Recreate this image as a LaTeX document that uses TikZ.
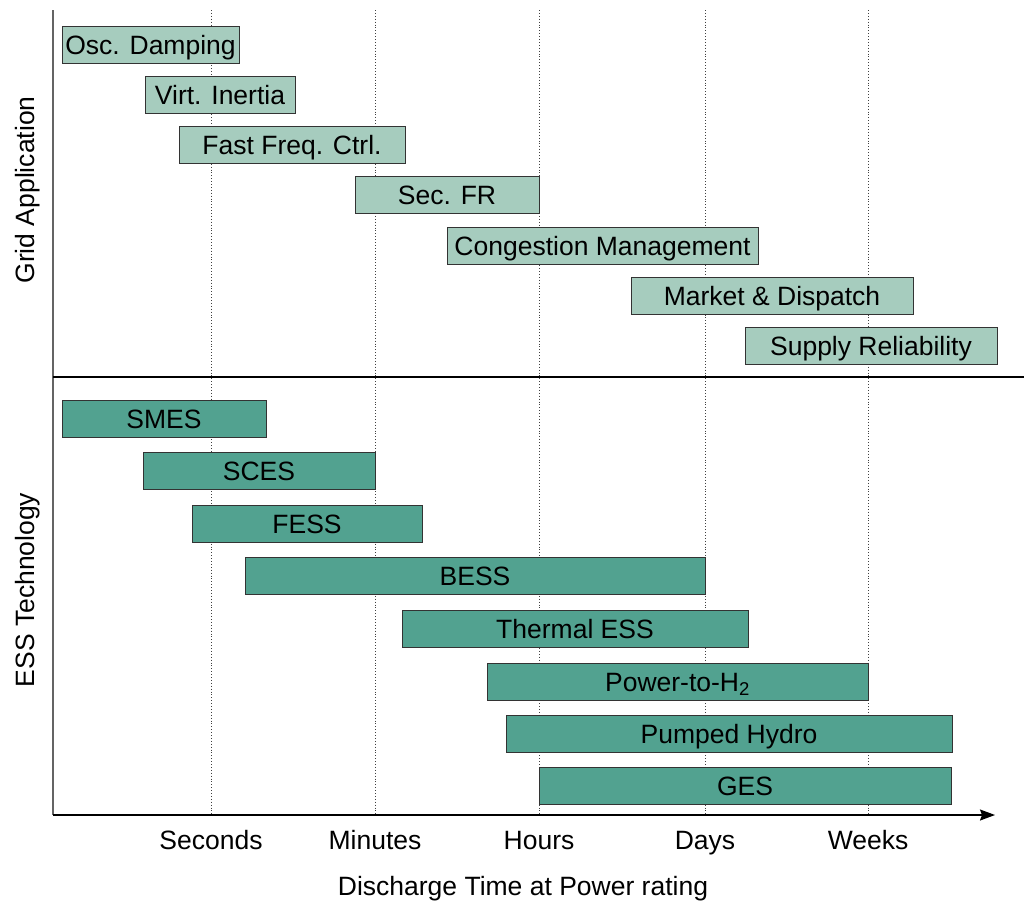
\documentclass[tikz,border=0pt]{standalone}
\usepackage{fontspec}
\setmainfont{Liberation Sans}
\usetikzlibrary{arrows.meta}
\definecolor{Gfill}{RGB}{166,204,190}
\definecolor{Efill}{RGB}{82,162,144}
\definecolor{Axgray}{RGB}{100,100,100}

\begin{document}
\begin{tikzpicture}[x=1pt,y=-1pt,line cap=butt,
  bar/.style={draw=black!80,line width=1pt,inner sep=0pt,minimum height=37pt,text height=19pt,text depth=0pt,font=\fontsize{26.5}{30}\selectfont},
  gridbar/.style={bar,fill=Gfill},
  essbar/.style={bar,fill=Efill},
  tick/.style={inner sep=0pt,text height=19pt,text depth=0pt,font=\fontsize{26.5}{30}\selectfont},
  guide/.style={draw=black!75,line width=0.9pt,dotted}]
\path[use as bounding box] (0,0) rectangle (1024,902);
% guide lines
\foreach \gx in {211,375,539,705,868}
  \draw[guide] (\gx,10) -- (\gx,815);
% axes
\coordinate (org) at (53,815);
\coordinate (top) at (53,10);
\coordinate (xend) at (995,815);
\coordinate (sepl) at (53,377);
\coordinate (sepr) at (1024,377);
\draw[Axgray,line width=2pt] (top) -- (org);
\draw[line width=1.6pt,-{Stealth[length=15pt,width=11pt,inset=2pt]}] (org) -- (xend);
\draw[line width=1.4pt] (sepl) -- (sepr);
% grid applications
\node[gridbar,minimum width=177pt] (osc) at (150.5,44.5) {Osc. Damping};
\node[gridbar,minimum width=150pt] (virt) at (220,94.5) {Virt. Inertia};
\node[gridbar,minimum width=226pt] (ffc) at (292,144.5) {Fast Freq. Ctrl.};
\node[gridbar,minimum width=184pt] (sfr) at (447,195) {Sec. FR};
\node[gridbar,minimum width=311pt] (cong) at (602.5,245.5) {Congestion Management};
\node[gridbar,minimum width=282pt] (mkt) at (772,295.5) {Market \& Dispatch};
\node[gridbar,minimum width=252pt] (sup) at (871,345.5) {Supply Reliability};
% ESS technologies
\node[essbar,minimum width=204pt] (smes) at (164,418.5) {SMES};
\node[essbar,minimum width=232pt] (sces) at (259,471) {SCES};
\node[essbar,minimum width=230pt] (fess) at (307,523.5) {FESS};
\node[essbar,minimum width=460pt] (bess) at (475,576) {BESS};
\node[essbar,minimum width=346pt] (tess) at (575,628.5) {Thermal ESS};
\node[essbar,minimum width=381pt] (pth) at (677.5,681.5) {Power-to-H\textsubscript{2}};
\node[essbar,minimum width=446pt] (phs) at (729,733.5) {Pumped Hydro};
\node[essbar,minimum width=412pt] (ges) at (745,786) {GES};
% axis labels
\node[tick] (sec) at (211,840) {Seconds};
\node[tick] (min) at (375,840) {Minutes};
\node[tick] (hrs) at (539,840) {Hours};
\node[tick] (day) at (705,840) {Days};
\node[tick] (wk) at (868,840) {Weeks};
\node[tick] (xlab) at (523,886) {Discharge Time at Power rating};
\node[tick,rotate=90] (ylab1) at (25,190) {Grid Application};
\node[tick,rotate=90] (ylab2) at (25,590) {ESS Technology};
\end{tikzpicture}
\end{document}
